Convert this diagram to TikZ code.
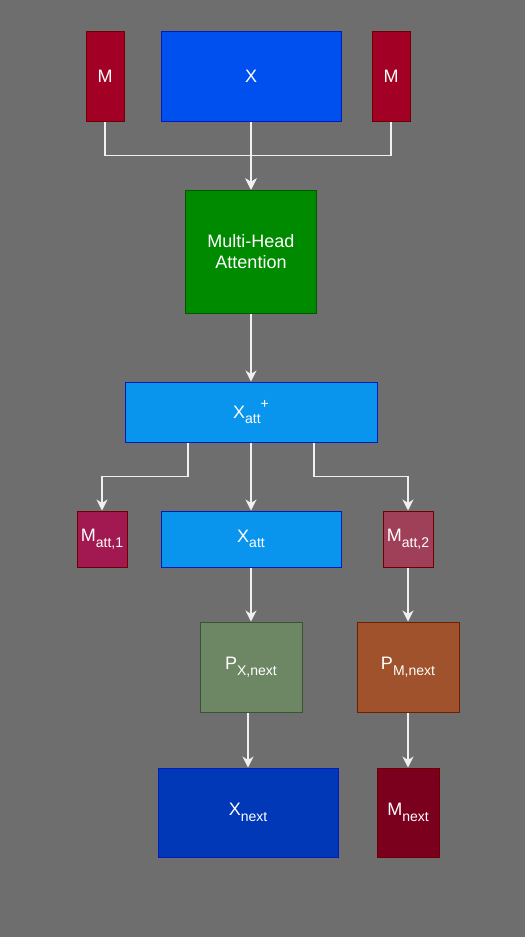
\documentclass[tikz,border=0pt]{standalone}
\usepackage{fontspec}
\setmainfont{Liberation Sans}
\usetikzlibrary{arrows.meta}
\definecolor{bggray}{HTML}{6E6E6E}
\definecolor{mfill}{HTML}{A20025}
\definecolor{mline}{HTML}{6F0000}
\definecolor{xfill}{HTML}{0050EF}
\definecolor{xline}{HTML}{001DBC}
\definecolor{attfill}{HTML}{008A00}
\definecolor{attline}{HTML}{005700}
\definecolor{xafill}{HTML}{0994EE}
\definecolor{maonefill}{HTML}{A11950}
\definecolor{matwofill}{HTML}{A04058}
\definecolor{pxfill}{HTML}{6D8764}
\definecolor{pxline}{HTML}{3A5431}
\definecolor{pmfill}{HTML}{A0522D}
\definecolor{pmline}{HTML}{6D1F00}
\definecolor{xnfill}{HTML}{0038B8}
\definecolor{mnfill}{HTML}{7A001D}
\definecolor{wire}{HTML}{F0F0F0}
\newcommand{\lowtxt}[1]{\raisebox{-0.3em}{\fontsize{14}{16}\selectfont #1}}
\newcommand{\hightxt}[1]{\raisebox{0.55em}{\fontsize{14}{16}\selectfont #1}}

\begin{document}
\begin{tikzpicture}[x=1pt,y=-1pt,
    box/.style={draw,line width=1pt,text=white,inner sep=0pt,align=center,
      font=\fontsize{18}{21}\selectfont},
    wirearrow/.style={draw=wire,line width=1.5pt,-{Stealth[length=11pt,width=11pt,inset=3.5pt]}}]
    \useasboundingbox[fill=bggray] (0,0) rectangle (525,937);
    % inputs
    \node[box,fill=mfill,draw=mline,minimum width=38pt,minimum height=90pt] (ml) at (105,76) {M};
    \node[box,fill=xfill,draw=xline,minimum width=180pt,minimum height=90pt] (x) at (251,76) {X};
    \node[box,fill=mfill,draw=mline,minimum width=38pt,minimum height=90pt] (mr) at (391,76) {M};
    \node[box,fill=attfill,draw=attline,minimum width=131pt,minimum height=123pt] (mha) at (251,251.5) {Multi-Head\\Attention};
    \node[box,fill=xafill,draw=xline,minimum width=252pt,minimum height=60pt] (xp) at (251,412) {X\lowtxt{att}\hightxt{+}};
    % split
    \node[box,fill=maonefill,draw=mline,minimum width=50pt,minimum height=56pt] (ma1) at (102,539) {M\lowtxt{att,1}};
    \node[box,fill=xafill,draw=xline,minimum width=180pt,minimum height=56pt] (xa) at (251,539) {X\lowtxt{att}};
    \node[box,fill=matwofill,draw=mline,minimum width=50pt,minimum height=56pt] (ma2) at (408,539) {M\lowtxt{att,2}};
    \node[box,fill=pxfill,draw=pxline,minimum width=102pt,minimum height=90pt] (px) at (251,667) {P\lowtxt{X,next}};
    \node[box,fill=pmfill,draw=pmline,minimum width=102pt,minimum height=90pt] (pm) at (408,667) {P\lowtxt{M,next}};
    % outputs
    \node[box,fill=xnfill,draw=xline,minimum width=180pt,minimum height=89pt] (xn) at (248,812.5) {X\lowtxt{next}};
    \node[box,fill=mnfill,draw=mline,minimum width=62pt,minimum height=89pt] (mn) at (408,812.5) {M\lowtxt{next}};

    \draw[wirearrow] (ml.south) -- ++(0,34) -| (mha.north);
    \draw[wirearrow] (mr.south) -- ++(0,34) -| (mha.north);
    \draw[wirearrow] (x.south) -- (mha.north);
    \draw[wirearrow] (mha.south) -- (xp.north);
    \draw[wirearrow] ([xshift=-63pt]xp.south) -- ++(0,34) -| (ma1.north);
    \draw[wirearrow] (xp.south) -- (xa.north);
    \draw[wirearrow] ([xshift=63pt]xp.south) -- ++(0,34) -| (ma2.north);
    \draw[wirearrow] (xa.south) -- (px.north);
    \draw[wirearrow] (ma2.south) -- (pm.north);
    \draw[wirearrow] (xn.north |- px.south) -- (xn.north);
    \draw[wirearrow] (pm.south) -- (mn.north);
\end{tikzpicture}
\end{document}
